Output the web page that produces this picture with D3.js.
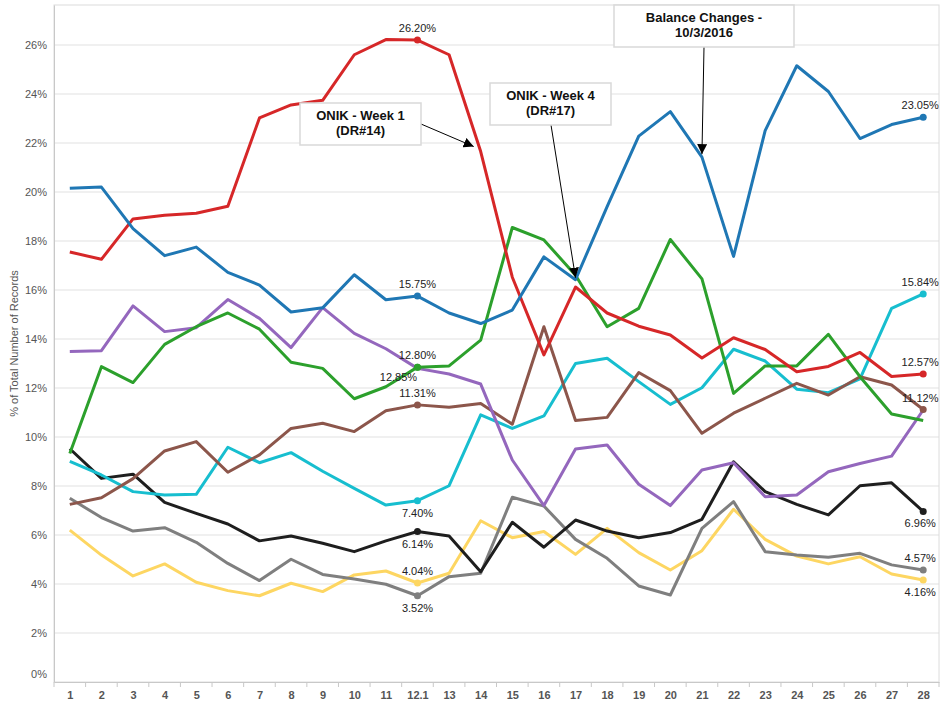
<!DOCTYPE html>
<html>
<head>
<meta charset="utf-8">
<script src="https://cdn.jsdelivr.net/npm/d3@7"></script>
<style>
  body { margin: 0; background: #fff; }
  svg { font-family: "Liberation Sans", Arial, sans-serif; }
</style>
</head>
<body>
<svg id="chart" width="947" height="704"></svg>
<script>
"use strict"

// Categories on the x axis
const weeks = ["1","2","3","4","5","6","7","8","9","10","11","12.1","13","14",
	"15","16","17","18","19","20","21","22","23","24","25","26","27","28"]

// Series values (% of total number of records)
const blueSeries   = [20.15,20.2,18.5,17.4,17.75,16.72,16.2,15.1,15.27,16.62,15.6,15.75,15.06,14.63,15.18,17.35,16.42,19.4,22.28,23.28,21.42,17.37,22.5,25.15,24.1,22.18,22.75,23.05]
const redSeries    = [17.55,17.25,18.9,19.05,19.13,19.42,23.02,23.55,23.74,25.6,26.22,26.2,25.6,21.65,16.52,13.35,16.12,15.06,14.52,14.16,13.22,14.05,13.57,12.66,12.88,13.45,12.47,12.57]
const greenSeries  = [9.33,12.87,12.22,13.78,14.5,15.06,14.4,13.05,12.8,11.56,12.05,12.85,12.9,13.95,18.55,18.04,16.6,14.5,15.25,18.06,16.45,11.78,12.9,12.9,14.19,12.46,10.94,10.67]
const purpleSeries = [13.49,13.52,15.35,14.3,14.46,15.61,14.84,13.65,15.28,14.23,13.6,12.8,12.57,12.16,9.06,7.2,9.51,9.67,8.07,7.2,8.65,8.95,7.56,7.63,8.58,8.92,9.22,11.1]
const brownSeries  = [7.25,7.52,8.3,9.43,9.81,8.56,9.27,10.35,10.56,10.22,11.07,11.31,11.21,11.37,10.52,14.5,10.67,10.8,12.63,11.89,10.15,10.97,11.58,12.19,11.71,12.46,12.12,11.12]
const cyanSeries   = [9.0,8.45,7.77,7.63,7.66,9.58,8.95,9.36,8.6,7.9,7.22,7.4,8.01,10.9,10.35,10.86,13.0,13.21,12.26,11.33,12.01,13.58,13.1,11.95,11.81,12.37,15.25,15.84]
const blackSeries  = [9.52,8.31,8.48,7.33,6.88,6.45,5.76,5.96,5.66,5.32,5.76,6.14,5.96,4.5,6.52,5.5,6.61,6.16,5.89,6.1,6.64,8.99,7.77,7.25,6.82,8.01,8.13,6.96]
const graySeries   = [7.5,6.71,6.16,6.3,5.7,4.84,4.14,5.01,4.39,4.2,3.99,3.52,4.3,4.44,7.54,7.18,5.82,5.05,3.92,3.55,6.27,7.36,5.32,5.18,5.09,5.25,4.78,4.57]
const yellowSeries = [6.2,5.18,4.33,4.82,4.07,3.73,3.52,4.03,3.69,4.37,4.53,4.04,4.44,6.58,5.89,6.14,5.21,6.27,5.28,4.57,5.36,7.05,5.82,5.14,4.82,5.11,4.41,4.16]

// Y ticks
const yTicks = [0,2,4,6,8,10,12,14,16,18,20,22,24,26]

// Drawing order (first drawn is at the bottom)
const seriesList = [
	{ name: "yellow", color: "#fdd662", values: yellowSeries },
	{ name: "gray",   color: "#7f7f7f", values: graySeries },
	{ name: "black",  color: "#1e1e1e", values: blackSeries },
	{ name: "cyan",   color: "#17becf", values: cyanSeries },
	{ name: "brown",  color: "#8c564b", values: brownSeries },
	{ name: "purple", color: "#9467bd", values: purpleSeries },
	{ name: "green",  color: "#2ca02c", values: greenSeries },
	{ name: "red",    color: "#d62728", values: redSeries },
	{ name: "blue",   color: "#1f77b4", values: blueSeries }
]

// Point labels: series, week, offset direction (-1 above, 1 below), dx
const pointLabels = [
	{ s: "red",    w: "12.1", dir: -1, dx: 0 },
	{ s: "blue",   w: "12.1", dir: -1, dx: 0 },
	{ s: "green",  w: "12.1", dir: -1, dx: 0, text: "12.80%" },
	{ s: "green",  w: "12.1", dir: 1,  dx: -19, dy: -2 },
	{ s: "brown",  w: "12.1", dir: -1, dx: 0 },
	{ s: "cyan",   w: "12.1", dir: 1,  dx: 0 },
	{ s: "black",  w: "12.1", dir: 1,  dx: 0 },
	{ s: "yellow", w: "12.1", dir: -1, dx: 0 },
	{ s: "gray",   w: "12.1", dir: 1,  dx: 0 },
	{ s: "blue",   w: "28", dir: -1, dx: -3 },
	{ s: "cyan",   w: "28", dir: -1, dx: -3 },
	{ s: "red",    w: "28", dir: -1, dx: -3 },
	{ s: "brown",  w: "28", dir: -1, dx: -3 },
	{ s: "black",  w: "28", dir: 1,  dx: -3 },
	{ s: "gray",   w: "28", dir: -1, dx: -3 },
	{ s: "yellow", w: "28", dir: 1,  dx: -3 }
]

// Annotations
const annotations = [
	{ lines: ["ONIK - Week 1", "(DR#14)"], box: [300, 103, 121, 42], from: [421, 124], s: "red", w: "14", ax: -7, ay: -5 },
	{ lines: ["ONIK - Week 4", "(DR#17)"], box: [490, 83, 121, 42], from: [551, 125], s: "blue", w: "17", ax: 0, ay: -2 },
	{ lines: ["Balance Changes -", "10/3/2016"], box: [614, 5, 180, 42], from: [704, 47], s: "blue", w: "21", ax: 0, ay: -3 }
]

const margins = { left: 54, top: 5, right: 8, bottom: 22 }
const width = 947 - margins.left - margins.right
const height = 704 - margins.top - margins.bottom

const svg = d3.select("#chart")

const xScale = d3.scalePoint().domain(weeks).range([0, width]).padding(0.5)
const yScale = d3.scaleLinear().domain([0, 27.63]).range([height, 0])

const g = svg.append("g")
	.attr("transform", "translate(" + margins.left + "," + margins.top + ")")

// Gridlines
g.append("g")
	.selectAll("line")
	.data(yTicks.filter(d => d > 0))
	.enter().append("line")
	.attr("x1", 0).attr("x2", width)
	.attr("y1", d => yScale(d)).attr("y2", d => yScale(d))
	.attr("stroke", "#ebebeb")
	.attr("stroke-width", 1.5)

// Frame
g.append("rect")
	.attr("x", 0).attr("y", 0)
	.attr("width", width).attr("height", height)
	.attr("fill", "none")
	.attr("stroke", "#dcdcdc")
	.attr("stroke-width", 1)

// Y axis
const yAxis = d3.axisLeft(yScale).tickValues(yTicks).tickFormat(d => d + "%").tickSize(0).tickPadding(7)
const yAxisG = g.append("g").call(yAxis)
yAxisG.select(".domain").attr("stroke", "#c8c8c8")
yAxisG.selectAll("text")
	.style("font-size", "11px")
	.attr("fill", "#555")
	.attr("dy", d => d === 0 ? "-0.4em" : "0.32em")

// X axis
const step = xScale.step()
const xAxis = d3.axisBottom(xScale).tickSize(0).tickPadding(9)
const xAxisG = g.append("g")
	.attr("transform", "translate(0," + height + ")")
	.call(xAxis)
xAxisG.select(".domain").attr("stroke", "#c8c8c8")
xAxisG.selectAll("text")
	.style("font-size", "11px")
	.style("font-weight", "bold")
	.attr("fill", "#555")
xAxisG.selectAll(".sep")
	.data(weeks.concat(["end"]))
	.enter().append("line")
	.attr("class", "sep")
	.attr("x1", (d, i) => i * step).attr("x2", (d, i) => i * step)
	.attr("y1", 0).attr("y2", 5)
	.attr("stroke", "#c8c8c8")

// Y axis title
svg.append("text")
	.attr("transform", "rotate(-90)")
	.attr("x", -(margins.top + height / 2))
	.attr("y", 18)
	.style("text-anchor", "middle")
	.style("font-size", "11px")
	.attr("fill", "#555")
	.text("% of Total Number of Records")

// Lines
const line = d3.line()
	.x((d, i) => xScale(weeks[i]))
	.y(d => yScale(d))

g.selectAll(".series")
	.data(seriesList)
	.enter().append("path")
	.attr("class", "series")
	.attr("d", d => line(d.values))
	.attr("fill", "none")
	.attr("stroke", d => d.color)
	.attr("stroke-width", 3)
	.attr("stroke-linejoin", "round")

const byName = {}
seriesList.forEach(s => byName[s.name] = s)
const valueAt = (s, w) => byName[s].values[weeks.indexOf(w)]

// Dots at labeled points
g.selectAll(".dot")
	.data(pointLabels)
	.enter().append("circle")
	.attr("class", "dot")
	.attr("cx", d => xScale(d.w))
	.attr("cy", d => yScale(valueAt(d.s, d.w)))
	.attr("r", 3.5)
	.attr("fill", d => byName[d.s].color)

// Point labels
g.selectAll(".plabel")
	.data(pointLabels)
	.enter().append("text")
	.attr("class", "plabel")
	.attr("x", d => xScale(d.w) + d.dx)
	.attr("y", d => yScale(valueAt(d.s, d.w)) + (d.dir < 0 ? -8 : 16) + (d.dy || 0))
	.style("text-anchor", "middle")
	.style("font-size", "11px")
	.attr("fill", "#222")
	.text(d => d.text || valueAt(d.s, d.w).toFixed(2) + "%")

// Annotations
svg.append("defs").append("marker")
	.attr("id", "arrow")
	.attr("viewBox", "0 0 10 10")
	.attr("refX", 10).attr("refY", 5)
	.attr("markerWidth", 10).attr("markerHeight", 10)
	.attr("markerUnits", "userSpaceOnUse")
	.attr("orient", "auto")
	.append("path")
	.attr("d", "M0,0 L10,5 L0,10 Z")
	.attr("fill", "#000")

annotations.forEach(a => {
	const tx = margins.left + xScale(a.w) + a.ax
	const ty = margins.top + yScale(valueAt(a.s, a.w)) + a.ay
	svg.append("line")
		.attr("x1", a.from[0]).attr("y1", a.from[1])
		.attr("x2", tx).attr("y2", ty)
		.attr("stroke", "#000")
		.attr("stroke-width", 1)
		.attr("marker-end", "url(#arrow)")
	svg.append("rect")
		.attr("x", a.box[0]).attr("y", a.box[1])
		.attr("width", a.box[2]).attr("height", a.box[3])
		.attr("fill", "#fff")
		.attr("stroke", "#d9d9d9")
		.attr("stroke-width", 1.5)
	a.lines.forEach((t, i) => {
		svg.append("text")
			.attr("x", a.box[0] + a.box[2] / 2)
			.attr("y", a.box[1] + 17 + i * 15)
			.style("text-anchor", "middle")
			.style("font-size", "13px")
			.style("font-weight", "bold")
			.attr("fill", "#111")
			.text(t)
	})
})
</script>
</body>
</html>
